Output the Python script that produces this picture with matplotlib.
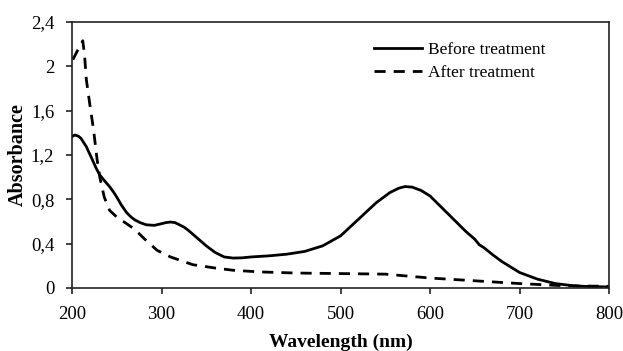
import matplotlib
matplotlib.use("Agg")
import matplotlib.pyplot as plt
from matplotlib.ticker import FuncFormatter

wl_before = [200, 203, 207, 210, 216, 222, 227, 231, 236, 242, 246, 250, 255, 261, 266, 270, 276, 283, 292, 300, 305, 310, 315, 320, 325, 330, 340, 350, 360, 370, 380, 390, 400, 420, 440, 460, 480, 500, 520, 540, 555, 565, 572, 580, 590, 600, 620, 640, 650, 655, 660, 670, 680, 700, 720, 740, 760, 780, 800]
abs_before = [1.365, 1.38, 1.37, 1.35, 1.275, 1.17, 1.08, 1.02, 0.97, 0.914, 0.87, 0.82, 0.75, 0.68, 0.64, 0.615, 0.59, 0.57, 0.565, 0.58, 0.59, 0.595, 0.59, 0.57, 0.55, 0.52, 0.45, 0.38, 0.32, 0.28, 0.27, 0.272, 0.28, 0.29, 0.305, 0.33, 0.38, 0.47, 0.62, 0.77, 0.86, 0.90, 0.915, 0.91, 0.88, 0.83, 0.67, 0.51, 0.44, 0.39, 0.365, 0.30, 0.24, 0.14, 0.08, 0.04, 0.02, 0.012, 0.01]

wl_after = [201, 206, 210, 212, 214, 216, 220, 224, 228, 231, 236, 242, 250, 261, 270, 280, 295, 310, 335, 360, 380, 410, 450, 500, 550, 600, 650, 700, 750, 800]
abs_after = [2.06, 2.14, 2.2, 2.23, 2.1, 1.88, 1.65, 1.43, 1.16, 1.0, 0.82, 0.70, 0.64, 0.58, 0.53, 0.45, 0.34, 0.28, 0.21, 0.18, 0.16, 0.145, 0.135, 0.13, 0.125, 0.09, 0.065, 0.04, 0.02, 0.015]

x_ticks = [200, 300, 400, 500, 600, 700, 800]
y_ticks = [0, 0.4, 0.8, 1.2, 1.6, 2.0, 2.4]

plt.rcParams['font.family'] = ['Liberation Serif', 'DejaVu Serif']

fig = plt.figure(figsize=(6.23, 3.51), dpi=100)
ax = fig.add_axes([0.1156, 0.1795, 0.862, 0.758])

ax.plot(wl_before, abs_before, color='black', lw=2.0, label='Before treatment')
ax.plot(wl_after, abs_after, color='black', lw=2.0, dashes=(4, 2.9), label='After treatment')

ax.set_xlim(200, 800)
ax.set_ylim(0, 2.4)
ax.set_xticks(x_ticks)
ax.set_yticks(y_ticks)
ax.yaxis.set_major_formatter(FuncFormatter(lambda v, p: ('%g' % round(v, 1)).replace('.', ',')))
ax.tick_params(direction='out', length=4.3, width=1.2, labelsize=13.5, pad=8.5, color='#222222')
for s in ax.spines.values():
    s.set_linewidth(1.2)
    s.set_color('#222222')

ax.set_xlabel('Wavelength (nm)', fontsize=14, fontweight='bold')
ax.set_ylabel('Absorbance', fontsize=14.5, fontweight='bold')
ax.xaxis.set_label_coords(0.5, -0.17)
ax.yaxis.set_label_coords(-0.082, 0.5)

leg = ax.legend(loc='upper left', bbox_to_anchor=(0.562, 0.925), frameon=False, fontsize=12.5,
                borderpad=0, borderaxespad=0,
                handlelength=2.76, handletextpad=0.35, labelspacing=0.42)

fig.savefig('out.png', dpi=100)
